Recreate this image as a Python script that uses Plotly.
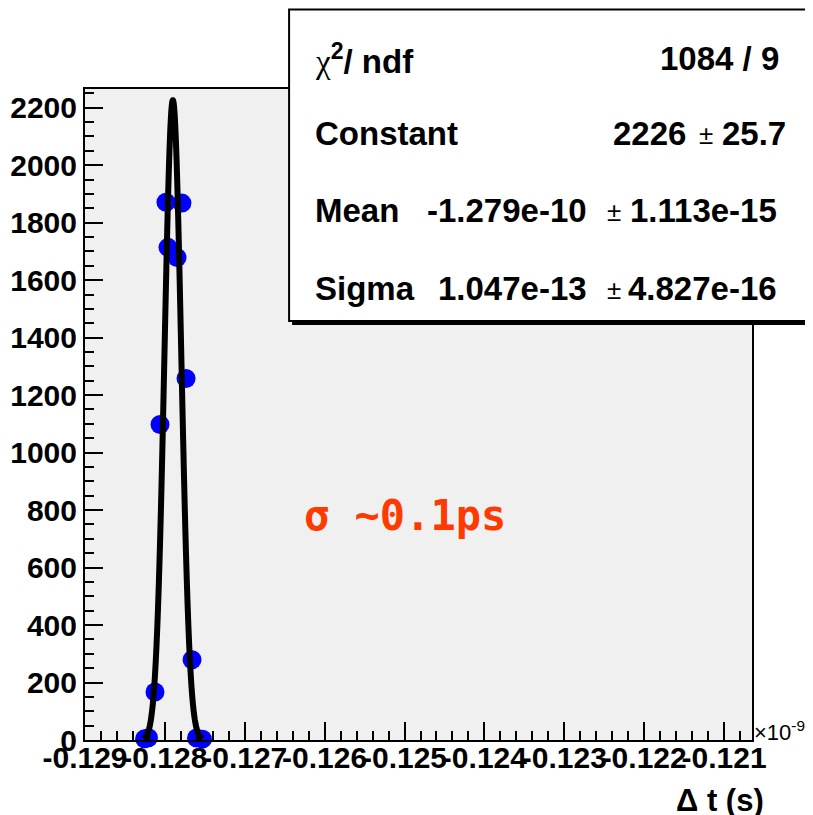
import numpy as np
import plotly.graph_objects as go

# ---------------- data ----------------
# x in units of 1e-9 s
bin_x = [-0.128255, -0.128205, -0.128124, -0.128061, -0.127986, -0.127961,
         -0.127848, -0.127786, -0.127735, -0.127660, -0.127604, -0.127529]
bin_counts = [4, 8, 167, 1098, 1871, 1714, 1679, 1868, 1258, 279, 7, 3]

# fit parameters (from the stats box), x in units of 1e-9 s
fit_constant = 2226.0
fit_mean = -0.1279
fit_sigma = 1.047e-4
fit_range = [-0.12827, -0.12753]

x_tick_vals = [-0.129, -0.128, -0.127, -0.126, -0.125, -0.124, -0.123, -0.122, -0.121]
x_tick_text = ["-0.129", "-0.128", "-0.127", "-0.126", "-0.125", "-0.124", "-0.123", "-0.122", "-0.121"]
y_tick_vals = [0, 200, 400, 600, 800, 1000, 1200, 1400, 1600, 1800, 2000, 2200]
y_tick_text = ["0", "200", "400", "600", "800", "1000", "1200", "1400", "1600", "1800", "2000", "2200"]

stats_rows = [
    ("<span style='font-family:Liberation Serif;font-weight:normal'>χ</span><sup>2</sup>/ ndf", None, "1084 / 9", None),
    ("Constant", "2226", "±", "25.7"),
    ("Mean", "-1.279e-10", "±", "1.113e-15"),
    ("Sigma", "1.047e-13", "±", "4.827e-16"),
]

# ---------------- geometry ----------------
OFF = 8                      # page body margin
W, H = 813 - OFF, 815 - OFF
# plot area in page pixels
PL, PR, PT, PB = 85, 751.7, 89, 740
L, R, T, B = PL - OFF, PR - OFF, PT - OFF, PB - OFF


def px(xp):
    return (xp - PL) / (PR - PL)


def py(yp):
    return (PB - yp) / (PB - PT)


x_curve = np.linspace(fit_range[0], fit_range[1], 600)
y_curve = fit_constant * np.exp(-0.5 * ((x_curve - fit_mean) / fit_sigma) ** 2)

fig = go.Figure()
fig.add_trace(go.Scatter(x=bin_x, y=bin_counts, mode="markers",
                         marker=dict(color="#0000ff", size=19, line=dict(width=0)),
                         cliponaxis=False, hoverinfo="skip"))
fig.add_trace(go.Scatter(x=x_curve, y=y_curve, mode="lines",
                         line=dict(color="black", width=6, simplify=False), hoverinfo="skip"))

tickfont = dict(family="Liberation Sans", size=30, color="black", weight="bold")

fig.update_layout(
    width=W, height=H,
    margin=dict(l=L, r=W - R, t=T, b=H - B, pad=0, autoexpand=False),
    paper_bgcolor="white", plot_bgcolor="#f0f0f0",
    showlegend=False,
    xaxis=dict(range=[-0.129, -0.12065], tickvals=x_tick_vals, ticktext=x_tick_text,
               ticks="inside", ticklen=18, tickwidth=2, tickcolor="black",
               minor=dict(ticks="inside", ticklen=9, tickwidth=2, tickcolor="black",
                          dtick=0.0002, tick0=-0.129, showgrid=False),
               showline=True, linewidth=2, linecolor="black", mirror=True,
               tickangle=0, showgrid=False, zeroline=False, tickfont=tickfont,
               ticklabelstandoff=-10, automargin=False),
    yaxis=dict(range=[0, 2265], tickvals=y_tick_vals, ticktext=y_tick_text,
               ticks="inside", ticklen=18, tickwidth=2, tickcolor="black",
               minor=dict(ticks="inside", ticklen=9, tickwidth=2, tickcolor="black",
                          dtick=50, tick0=0, showgrid=False),
               showline=True, linewidth=2, linecolor="black", mirror=True,
               showgrid=False, zeroline=False, tickfont=tickfont, automargin=False),
)

# stats box (shadow + box)
fig.add_shape(type="rect", xref="paper", yref="paper", layer="above",
              x0=px(292), x1=px(830), y0=py(325), y1=py(13),
              fillcolor="black", line=dict(width=0))
fig.add_shape(type="rect", xref="paper", yref="paper", layer="above",
              x0=px(289), x1=px(828), y0=py(321), y1=py(9.5),
              fillcolor="white", line=dict(color="black", width=2))

sfont = dict(family="Liberation Sans", size=33, color="black", weight="bold")
pmfont = dict(family="Liberation Sans", size=26, color="black", weight="normal")
row_y = [59, 133, 210, 288]

# row 1
fig.add_annotation(xref="paper", yref="paper", x=px(313), y=py(row_y[0]), text=stats_rows[0][0],
                   showarrow=False, xanchor="left", yanchor="middle", font=sfont)
fig.add_annotation(xref="paper", yref="paper", x=px(781), y=py(row_y[0]), text=stats_rows[0][2],
                   showarrow=False, xanchor="right", yanchor="middle", font=sfont)
# row 2
fig.add_annotation(xref="paper", yref="paper", x=px(313), y=py(row_y[1]), text=stats_rows[1][0],
                   showarrow=False, xanchor="left", yanchor="middle", font=sfont)
fig.add_annotation(xref="paper", yref="paper", x=px(688), y=py(row_y[1]), text=stats_rows[1][1],
                   showarrow=False, xanchor="right", yanchor="middle", font=sfont)
fig.add_annotation(xref="paper", yref="paper", x=px(706), y=py(row_y[1] + 2), text=stats_rows[1][2],
                   showarrow=False, xanchor="center", yanchor="middle", font=pmfont)
fig.add_annotation(xref="paper", yref="paper", x=px(788), y=py(row_y[1]), text=stats_rows[1][3],
                   showarrow=False, xanchor="right", yanchor="middle", font=sfont)
# rows 3, 4
for i in (2, 3):
    r = stats_rows[i]
    fig.add_annotation(xref="paper", yref="paper", x=px(313), y=py(row_y[i]), text=r[0],
                       showarrow=False, xanchor="left", yanchor="middle", font=sfont)
    fig.add_annotation(xref="paper", yref="paper", x=px(589), y=py(row_y[i]), text=r[1],
                       showarrow=False, xanchor="right", yanchor="middle", font=sfont)
    fig.add_annotation(xref="paper", yref="paper", x=px(614), y=py(row_y[i] + 2), text=r[2],
                       showarrow=False, xanchor="center", yanchor="middle", font=pmfont)
    fig.add_annotation(xref="paper", yref="paper", x=px(779), y=py(row_y[i]), text=r[3],
                       showarrow=False, xanchor="right", yanchor="middle", font=sfont)

# exponent label
fig.add_annotation(xref="paper", yref="paper", x=px(752), y=py(731),
                   text="×10<sup>-9</sup>", showarrow=False, xanchor="left", yanchor="middle",
                   font=dict(family="Liberation Sans", size=22, color="black"))
# axis title
fig.add_annotation(xref="paper", yref="paper", x=px(766), y=py(800),
                   text="Δ t (s)", showarrow=False, xanchor="right", yanchor="middle",
                   font=dict(family="Liberation Sans", size=31, color="black", weight="bold"))
# sigma note
fig.add_annotation(xref="paper", yref="paper", x=px(405), y=py(515),
                   text="σ ~0.1ps", showarrow=False, xanchor="center", yanchor="middle",
                   font=dict(family="DejaVu Sans Mono", size=42, color="#ff3a00", weight="bold"))

fig.write_html("out.html")
